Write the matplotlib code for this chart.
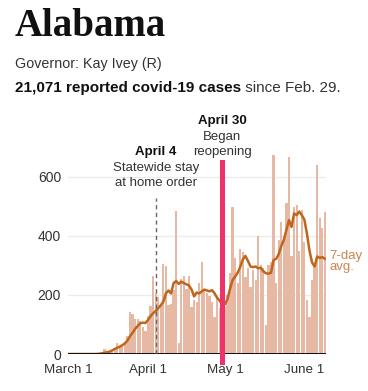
import matplotlib
matplotlib.use("Agg")
import matplotlib.pyplot as plt
import matplotlib.transforms as mtransforms

# daily reported cases, March 1 .. June 9 (day 0 = March 1)
cases = [0, 0, 0, 0, 0, 0, 0, 0, 0, 0, 0, 0,
         3, 6, 16, 6, 10, 12, 20, 36, 25, 30, 40, 60,
         143, 134, 120, 118, 110, 92, 78, 130, 162, 265, 208, 194,
         170, 303, 298, 166, 170, 216, 484, 36, 255, 265, 220, 265,
         160, 183, 177, 240, 312, 220, 205, 195, 177, 126, 194, 155, 170,
         160, 200, 273, 498, 325, 240, 357, 345, 262, 290, 228, 284,
         250, 400, 301, 290, 98, 300, 310, 673, 239, 386,
         448, 400, 510, 668, 330, 499, 504, 350, 487, 380, 183, 126,
         250, 300, 640, 459, 425, 482]

# 7-day average
avg7 = [0, 0, 0, 0, 0, 0, 0, 0, 0, 0, 0, 0,
        1, 2, 4, 6, 8, 12, 17, 21, 25, 30, 36, 46,
        60, 72, 85, 95, 104, 106, 105, 115, 128, 138, 145, 155,
        165, 177, 205, 215, 205, 240, 247, 237, 245, 240, 236, 232,
        218, 195, 208, 205, 212, 218, 215, 212, 216, 205, 190, 180, 166,
        168, 185, 220, 250, 262, 275, 295, 320, 332, 315, 296, 294,
        296, 290, 292, 280, 273, 272, 275, 318, 322, 338,
        365, 386, 420, 453, 430, 476, 470, 482, 470, 455, 408, 350,
        310, 296, 330, 325, 328, 322]

days = list(range(len(cases)))
tick_days = [0, 31, 61, 92]
tick_labels = ["March 1", "April 1", "May 1", "June 1"]
y_ticks = [0, 200, 400, 600]
stay_home_day = 34   # April 4
reopen_day = 60      # April 30

W, H = 368, 391
fig = plt.figure(figsize=(W / 100, H / 100), dpi=100)
sans = "Liberation Sans"

def fy(py):
    return 1 - py / H

fig.text(15 / W, fy(36), "Alabama", family="Liberation Serif", weight="bold",
         fontsize=28, color="#111111", va="baseline")
fig.text(15 / W, fy(68), "Governor: Kay Ivey (R)", family=sans, fontsize=10.3,
         color="#333333", va="baseline")
t = fig.text(15 / W, fy(92), "21,071 reported covid-19 cases", family=sans,
             fontsize=11, weight="bold", color="#111111", va="baseline")
r = fig.canvas.get_renderer()
bb = t.get_window_extent(renderer=r)
fig.text(bb.x1 / (fig.dpi * fig.get_figwidth()), fy(92), " since Feb. 29.",
         family=sans, fontsize=11, color="#333333", va="baseline")

ax = fig.add_axes([68 / W, fy(354), 258 / W, 700 / 3.384 / H])
ax.bar(days, cases, width=0.88, color="#e7b8a3", linewidth=0, zorder=2)
ax.plot(days, avg7, color="#c0661c", lw=1.8, zorder=3)

ax.set_xlim(-0.2, 100.45)
ax.set_ylim(0, 700)
ax.set_yticks(y_ticks)
ax.set_yticklabels([str(v) for v in y_ticks])
ax.set_xticks(tick_days)
ax.set_xticklabels(tick_labels)
ax.tick_params(axis="both", length=0, labelsize=9.6, labelcolor="#333333")
ax.tick_params(axis="x", pad=7)
ax.tick_params(axis="y", labelsize=10, pad=5)
for lab in ax.get_xticklabels() + ax.get_yticklabels():
    lab.set_family(sans)
for s in ax.spines.values():
    s.set_visible(False)
ax.grid(axis="y", color="#ececec", lw=1, zorder=0)
ax.axhline(0, color="#111111", lw=1.4, zorder=4)

# event markers
ax.axvline(stay_home_day, ymin=0, ymax=0.755, color="#666666", lw=1,
           ls=(0, (3, 2.5)), zorder=4)
ax.axvline(reopen_day, ymin=-0.04, ymax=0.93, color="#f0326c", lw=3.6,
           zorder=5, clip_on=False)

tr = mtransforms.blended_transform_factory(ax.transData, fig.transFigure)
ax.text(reopen_day, fy(124), "April 30", transform=tr, ha="center",
        va="baseline", family=sans, weight="bold", fontsize=9.5, color="#111111")
ax.text(reopen_day, fy(140), "Began", transform=tr, ha="center",
        va="baseline", family=sans, fontsize=9.5, color="#333333")
ax.text(reopen_day, fy(155.5), "reopening", transform=tr, ha="center",
        va="baseline", family=sans, fontsize=9.5, color="#333333")
ax.text(stay_home_day, fy(155.5), "April 4", transform=tr, ha="center",
        va="baseline", family=sans, weight="bold", fontsize=9.5, color="#111111")
ax.text(stay_home_day, fy(171), "Statewide stay", transform=tr, ha="center",
        va="baseline", family=sans, fontsize=9.5, color="#333333")
ax.text(stay_home_day, fy(186.5), "at home order", transform=tr, ha="center",
        va="baseline", family=sans, fontsize=9.5, color="#333333")

fig.text(329 / W, fy(259), "7-day", family=sans, fontsize=9.5,
         color="#c8874e", va="baseline")
fig.text(329 / W, fy(270), "avg.", family=sans, fontsize=9.5,
         color="#c8874e", va="baseline")

fig.savefig("out.png", dpi=100)
